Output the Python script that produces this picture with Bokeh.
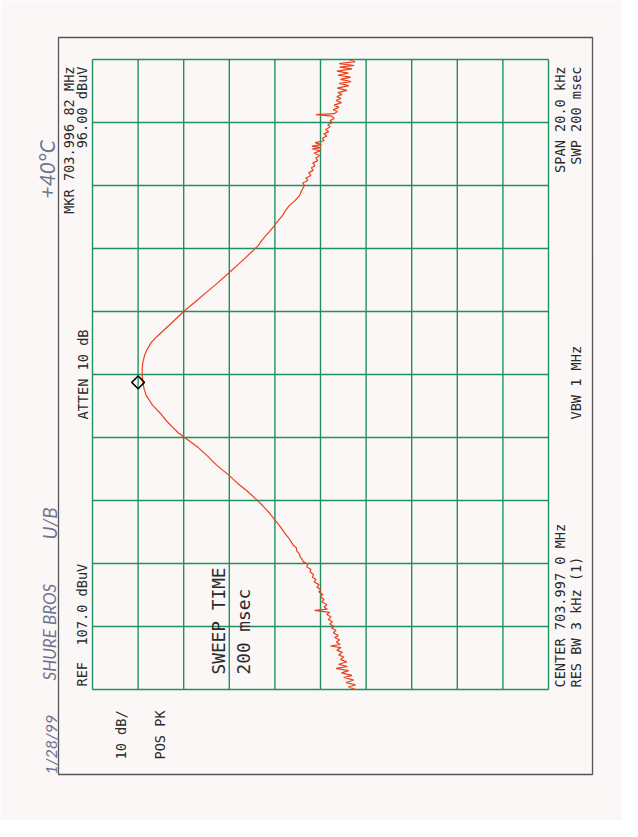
from bokeh.plotting import figure
from bokeh.models import Range1d
from bokeh.core.properties import value
from bokeh.embed import file_html
from bokeh.resources import INLINE

# ---------------- data ----------------
ref_level_dbuv = 107.0
db_per_div = 10.0
amp_ticks = [107, 97, 87, 77, 67, 57, 47, 37, 27, 17, 7]
freq_ticks = [-10, -8, -6, -4, -2, 0, 2, 4, 6, 8, 10]   # kHz offset from centre

freq_khz = [
    -10.0, -9.92, -9.85, -9.78, -9.70, -9.62, -9.55, -9.47, -9.40, -9.33, -9.27, -9.20,
    -9.12, -9.05, -8.97, -8.90, -8.82, -8.75, -8.67, -8.62, -8.57, -8.50, -8.42, -8.35,
    -8.29, -8.20, -8.12, -8.05, -8.00, -7.92, -7.85, -7.78, -7.70, -7.62, -7.55, -7.49,
    -7.45, -7.38, -7.30, -7.22, -7.14, -7.06, -6.98, -6.90, -6.83, -6.75, -6.67, -6.59,
    -6.51, -6.43, -6.35, -6.27, -6.19, -6.10, -6.02, -5.94, -5.87, -5.78, -5.70, -5.60,
    -5.50, -5.43, -5.30, -5.20, -5.10, -5.02,
    -4.80, -4.60, -4.38, -4.16, -3.95, -3.70, -3.45, -3.21, -2.86, -2.60, -2.32, -2.00,
    -1.85, -1.68, -1.50, -1.27, -1.10, -0.98, -0.80, -0.67, -0.45, -0.25, -0.05, 0.16,
    0.35, 0.60, 0.80, 1.02, 1.20, 1.43, 1.70, 2.00, 2.30, 2.60, 2.90, 3.24, 3.55, 3.85,
    4.10, 4.25, 4.41, 4.57, 4.73, 4.90, 5.05, 5.20, 5.37, 5.52, 5.68, 5.85,
    6.00, 6.08, 6.16, 6.24, 6.32, 6.40, 6.48, 6.56, 6.63, 6.71, 6.79, 6.87, 6.95, 7.03,
    7.10, 7.16, 7.20, 7.25, 7.30, 7.36, 7.42, 7.50, 7.57, 7.64, 7.71, 7.78, 7.86, 7.93,
    8.00, 8.06, 8.13, 8.20, 8.25, 8.28, 8.35, 8.41, 8.48, 8.55, 8.63, 8.70, 8.76, 8.82,
    8.89, 8.95, 9.02, 9.09, 9.17, 9.24, 9.30, 9.37, 9.44, 9.50, 9.57, 9.63, 9.70, 9.76,
    9.81, 9.87, 9.93, 10.0,
]
level_dbuv = [
    49.3, 50.9, 49.3, 51.4, 49.7, 51.9, 50.1, 52.4, 50.8, 53.6, 51.1, 53.0,
    51.2, 52.6, 51.9, 53.0, 52.2, 53.4, 52.5, 54.8, 52.7, 53.5, 52.8, 53.9,
    53.1, 54.2, 53.6, 54.6, 54.0, 55.0, 54.4, 55.3, 54.7, 55.6, 55.0, 58.3,
    55.5, 56.2, 55.6, 56.7, 56.2, 57.0, 56.5, 57.4, 56.9, 57.8, 57.3, 58.4,
    58.0, 58.8, 58.5, 59.3, 59.1, 60.0, 59.8, 60.8, 61.0, 61.5, 61.6, 62.2,
    62.3, 62.9, 63.5, 63.9, 64.5, 64.9,
    66.0, 67.1, 68.3, 69.7, 71.2, 73.1, 75.2, 77.0, 79.9, 81.7, 83.8, 86.8,
    88.2, 89.4, 90.6, 91.9, 93.0, 93.8, 94.6, 95.2, 95.7, 95.95, 96.1, 96.1,
    96.0, 95.6, 95.0, 94.1, 92.9, 91.2, 89.2, 87.0, 84.5, 82.1, 79.6, 77.0, 74.6, 72.4,
    70.6, 69.9, 69.0, 68.0, 67.1, 66.2, 65.3, 64.7, 63.8, 62.6, 61.6, 61.1,
    60.5, 60.9, 59.8, 60.2, 59.1, 59.6, 58.6, 59.0, 58.2, 58.7, 57.6, 58.0, 57.2, 58.4,
    57.0, 58.8, 56.9, 58.9, 56.8, 58.2, 56.2, 56.6, 55.6, 56.3, 55.2, 55.9, 54.9, 55.4,
    54.4, 54.9, 54.0, 54.5, 58.0, 54.0, 53.3, 54.2, 53.0, 54.0, 52.4, 53.6, 52.5, 53.4,
    52.3, 53.2, 51.2, 53.3, 50.8, 52.9, 50.3, 52.6, 50.4, 53.2, 50.9, 53.4, 50.1, 52.8,
    49.6, 52.9, 49.4, 50.8,
]
marker_freq_khz = [-0.25]
marker_level_dbuv = [97.0]

# ---------------- layout (page pixels) ----------------
FIG_W, FIG_H = 622, 820
FRAME_L, FRAME_T, FRAME_W, FRAME_H = 100, 67, 456, 630   # grid position on page

def amp_at(px):
    return ref_level_dbuv - (px - FRAME_L) / (FRAME_W / 10.0) * db_per_div

def freq_at(py):
    return (FRAME_T + FRAME_H / 2.0 - py) / (FRAME_H / 20.0)

BG = "#fcf7f7"
GRID = "#1f9160"
TRACE = "#e8401c"
INK = "#2a2a2a"
PENCIL = "#6f7590"

p = figure(width=FIG_W, height=FIG_H,
           min_border_left=0, min_border_right=0, min_border_top=0, min_border_bottom=0,
           x_range=Range1d(amp_at(8), amp_at(8 + FIG_W)),
           y_range=Range1d(freq_at(8 + FIG_H), freq_at(8)),
           x_axis_location=None, y_axis_location=None,
           output_backend="svg", toolbar_location=None, tools="")
p.background_fill_color = BG
p.border_fill_color = BG
p.outline_line_color = None
p.grid.visible = False

# outer page frame
p.quad(left=[amp_at(66)], right=[amp_at(600)], top=[freq_at(45)], bottom=[freq_at(782)],
       fill_alpha=0, line_color="#555555", line_width=1.3)

# graticule
f_lo, f_hi = freq_ticks[0], freq_ticks[-1]
a_hi, a_lo = amp_ticks[0], amp_ticks[-1]
p.segment(x0=amp_ticks, y0=[f_lo] * len(amp_ticks), x1=amp_ticks, y1=[f_hi] * len(amp_ticks),
          line_color=GRID, line_width=1.4)
p.segment(x0=[a_hi] * len(freq_ticks), y0=freq_ticks, x1=[a_lo] * len(freq_ticks), y1=freq_ticks,
          line_color=GRID, line_width=1.4)

p.line(level_dbuv, freq_khz, line_color=TRACE, line_width=1.2)
p.scatter(marker_level_dbuv, marker_freq_khz, marker="square", angle=0.785398,
          size=9, fill_color=None, line_color="black", line_width=1.5)

MONO = "DejaVu Sans Mono"
NB = "\u00a0"
texts = [
    # text, x px, y px, align, size, font, colour, style
    ("MKR 703.996 82 MHz", 76.5, 74, "right", "13.6px", MONO, INK, "normal"),
    ("96.00 dBuV", 89.5, 74, "right", "13.6px", MONO, INK, "normal"),
    ("ATTEN 10 dB", 90, 427, "left", "13.6px", MONO, INK, "normal"),
    ("REF" + NB + NB + "107.0 dBuV", 89.5, 694, "left", "13.6px", MONO, INK, "normal"),
    ("10 dB/", 128, 767, "left", "13.6px", MONO, INK, "normal"),
    ("POS PK", 167, 767, "left", "13.6px", MONO, INK, "normal"),
    ("SWEEP TIME", 226, 682, "left", "17.8px", MONO, INK, "normal"),
    ("200 msec", 251, 682, "left", "17.8px", MONO, INK, "normal"),
    ("SPAN 20.0 kHz", 567, 74, "right", "13.6px", MONO, INK, "normal"),
    ("SWP 200 msec", 583, 74, "right", "13.6px", MONO, INK, "normal"),
    ("VBW 1 MHz", 583, 427, "left", "13.6px", MONO, INK, "normal"),
    ("CENTER 703.997 0 MHz", 567, 695, "left", "13.6px", MONO, INK, "normal"),
    ("RES BW 3 kHz (1)", 583, 695, "left", "13.6px", MONO, INK, "normal"),
    ("+40°C", 54, 206, "left", "21px", "Lato", PENCIL, "italic"),
    ("SHURE BROS", 57, 688, "left", "17px", "Lato", PENCIL, "italic"),
    ("U/B", 57, 547, "left", "19px", "Lato", PENCIL, "italic"),
    ("1/28/99", 58, 782, "left", "16px", "Lato", PENCIL, "italic"),
]
for t, px, py, align, size, font, col, style in texts:
    p.text(x=[amp_at(px)], y=[freq_at(py)], text=[t], angle=90, angle_units="deg",
           text_align=align, text_baseline="middle", text_font=value(font),
           text_font_size=size, text_color=col, text_font_style=style)

open("out.html", "w").write(file_html(p, INLINE))
